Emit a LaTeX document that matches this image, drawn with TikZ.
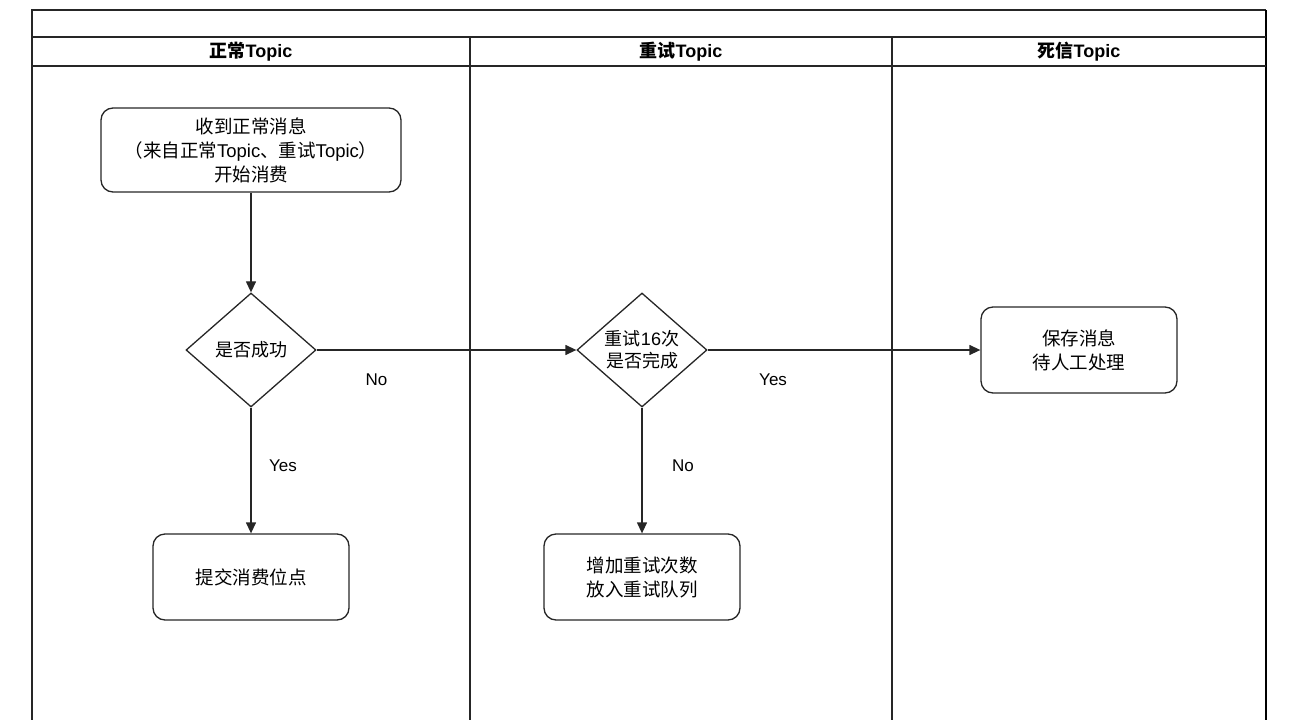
\documentclass[tikz,border=0pt]{standalone}
\usepackage{fontspec}
\setmainfont{Noto Sans CJK SC}
\newfontfamily\lat{Liberation Sans}
\usetikzlibrary{shapes.geometric,arrows.meta}
\begin{document}
\begin{tikzpicture}[x=1pt,y=-1pt,
  lane/.style={draw=black!85,line width=1.2pt},
  proc/.style={draw=black!85,line width=1.3pt,rounded corners=12pt,align=center,font=\fontsize{18.5pt}{24pt}\selectfont,inner sep=0pt},
  deci/.style={draw=black!85,line width=1.3pt,diamond,aspect=1.14,align=center,font=\fontsize{18pt}{22pt}\selectfont,inner sep=0pt},
  hdr/.style={font=\fontsize{18pt}{20pt}\selectfont\bfseries},
  lbl/.style={font=\fontsize{17pt}{20pt}\selectfont\lat},
  flow/.style={draw=black!85,line width=1.3pt,-{Triangle[length=11pt,width=10pt]}}
]
\useasboundingbox (0,0) rectangle (1302,720);
% lanes
\draw[lane] (32,720) -- (32,10) -- (1266,10);
\draw[draw=black,line width=2pt] (1266,10) -- (1266,720);
\draw[lane] (32,37) -- (1266,37);
\draw[lane] (32,66) -- (1266,66);
\draw[lane] (470,37) -- (470,720);
\draw[lane] (892,37) -- (892,720);
\node[hdr] (h1) at (251,52) {正常{\lat Topic}};
\node[hdr] (h2) at (681,52) {重试{\lat Topic}};
\node[hdr] (h3) at (1079,52) {死信{\lat Topic}};
% nodes
\node[proc,minimum width=300pt,minimum height=84pt] (recv) at (251,150) {收到正常消息\\（来自正常{\lat Topic}、重试{\lat Topic}）\\开始消费};
\node[deci,minimum width=130pt,minimum height=114pt] (ok) at (251,350) {是否成功};
\node[deci,minimum width=130pt,minimum height=114pt] (retry) at (642,350) {重试{\lat 16}次\\是否完成};
\node[proc,minimum width=196pt,minimum height=86pt] (save) at (1079,350) {保存消息\\待人工处理};
\node[proc,minimum width=196pt,minimum height=86pt] (commit) at (251,577) {提交消费位点};
\node[proc,minimum width=196pt,minimum height=86pt] (incr) at (642,577) {增加重试次数\\放入重试队列};
% connectors
\draw[flow] (recv) -- (ok);
\draw[flow] (ok) -- node[lbl,pos=0.23,yshift=-30pt] (no1) {No} (retry);
\draw[flow] (retry) -- node[lbl,pos=0.24,yshift=-30pt] (yes1) {Yes} (save);
\draw[flow] (ok) -- node[lbl,pos=0.46,xshift=32pt] (yes2) {Yes} (commit);
\draw[flow] (retry) -- node[lbl,pos=0.46,xshift=41pt] (no2) {No} (incr);
\end{tikzpicture}
\end{document}
